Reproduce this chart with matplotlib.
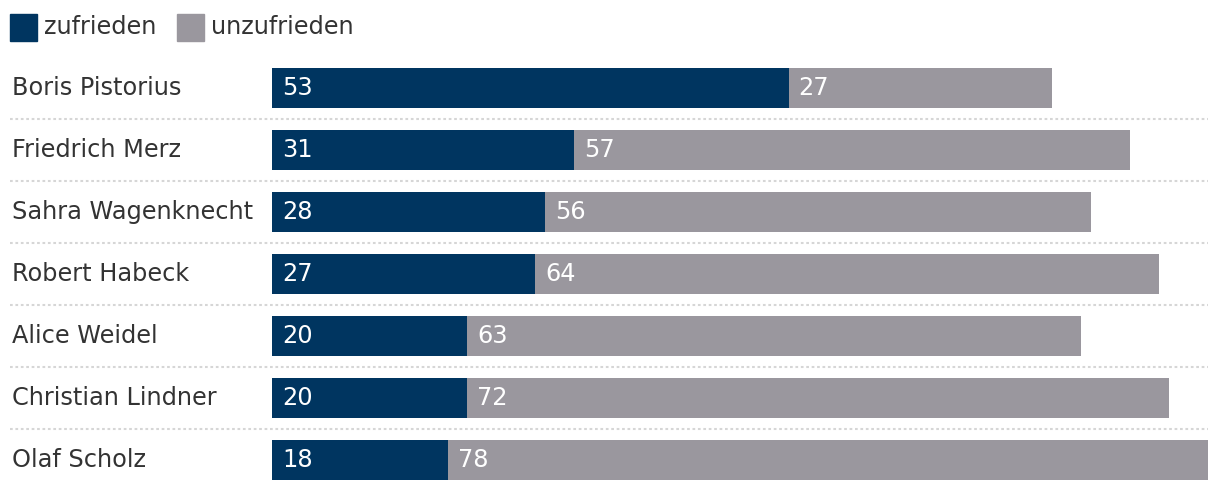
import matplotlib
matplotlib.use("Agg")
import matplotlib.pyplot as plt
from matplotlib.patches import Rectangle

names = ["Boris Pistorius", "Friedrich Merz", "Sahra Wagenknecht", "Robert Habeck",
         "Alice Weidel", "Christian Lindner", "Olaf Scholz"]
zufrieden = [53, 31, 28, 27, 20, 20, 18]
unzufrieden = [27, 57, 56, 64, 63, 72, 78]

blue = "#003560"
grey = "#9a979e"
txt = "#333333"
fs = 17.3

W, H = 1220, 492
fig = plt.figure(figsize=(W / 100, H / 100), dpi=100)
ax = fig.add_axes([272 / W, 1 / H, (1208 - 272) / W, 434 / H])

n = len(names)
ypos = list(range(n))
xmax = max(z + u for z, u in zip(zufrieden, unzufrieden))
ax.barh(ypos, zufrieden, height=0.645, color=blue)
ax.barh(ypos, unzufrieden, left=zufrieden, height=0.645, color=grey)
ax.set_xlim(0, xmax)
ax.set_ylim(n - 0.5, -0.5)
ax.axis("off")

px = xmax / (1208 - 272)
for i in range(n):
    ax.text(10 * px, i, str(zufrieden[i]), color="white", va="center", ha="left", fontsize=fs)
    ax.text(zufrieden[i] + 10 * px, i, str(unzufrieden[i]), color="white",
            va="center", ha="left", fontsize=fs)
    fig.text(12 / W, 1 - (88 + 62 * i) / H, names[i], color=txt, va="center",
             ha="left", fontsize=fs)

# dotted separators
for i in range(n - 1):
    ax.axhline(i + 0.5, xmin=(10 - 272) / (1208 - 272), xmax=1, color="#d6d6d6",
               lw=1.5, linestyle=(0, (1.3, 1.3)), clip_on=False)

# legend
for x0, col, lab in [(10, blue, "zufrieden"), (177, grey, "unzufrieden")]:
    fig.patches.append(Rectangle((x0 / W, 1 - 41 / H), 27 / W, 27 / H,
                                 transform=fig.transFigure, color=col))
    fig.text((x0 + 34) / W, 1 - 27 / H, lab, color=txt, va="center", ha="left", fontsize=fs)

fig.savefig("out.png", dpi=100)
